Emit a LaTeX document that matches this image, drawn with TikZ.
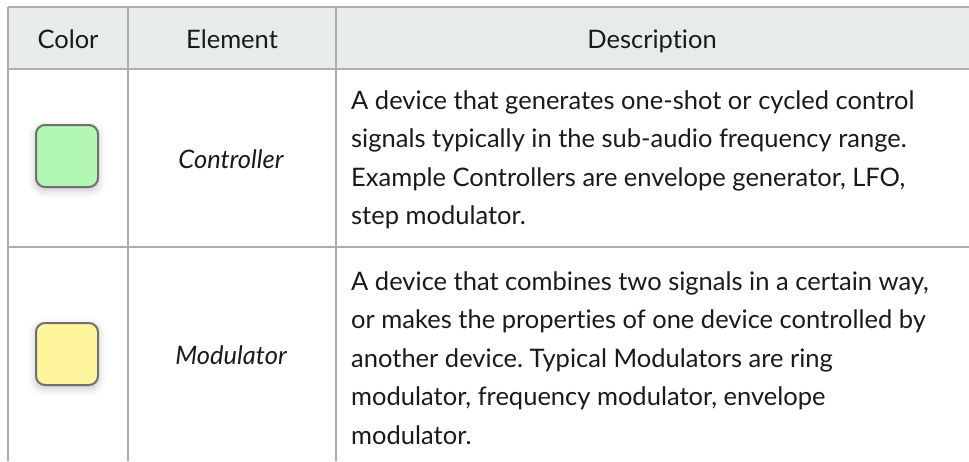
\documentclass[tikz,border=0pt]{standalone}
\usepackage{fontspec}
\setmainfont{Lato}[Ligatures=NoCommon]
\usetikzlibrary{shadows.blur}
\definecolor{gridgray}{HTML}{ADADAD}
\definecolor{headfill}{HTML}{E8EBEC}
\definecolor{ctrlgreen}{HTML}{B3F7B5}
\definecolor{modyellow}{HTML}{FFF59C}
\definecolor{boxedge}{HTML}{707070}
\definecolor{txt}{HTML}{1A1A1A}
\tikzset{
  grid/.style={draw=gridgray, line width=2pt},
  cell/.style={inner sep=0pt, text=txt, anchor=base, font=\fontsize{25.5}{38.5}\selectfont},
  elem/.style={cell, font=\fontsize{25.5}{38.5}\selectfont\itshape},
  desc/.style={cell, anchor=west, align=left, font=\fontsize{25.5}{38.5}\selectfont\frenchspacing},
  swatch/.style={draw=boxedge, line width=2pt, rounded corners=9pt, minimum width=62pt, minimum height=62pt, inner sep=0pt,
    blur shadow={shadow xshift=0pt, shadow yshift=-3pt, shadow blur radius=8pt, shadow opacity=25}}
}
\begin{document}
\begin{tikzpicture}[x=1pt,y=-1pt]
\useasboundingbox (0,0) rectangle (969,461);
\fill[headfill] (8,7) rectangle (969,69);
\draw[grid] (8,7) -- (969,7);
\draw[grid] (8,69) -- (969,69);
\draw[grid] (8,247) -- (969,247);
\draw[grid] (8,7) -- (8,461);
\draw[grid] (128,7) -- (128,461);
\draw[grid] (336,7) -- (336,461);
\node[cell] (hcolor) at (68,48) {Color};
\node[cell] (helem) at (232,48) {Element};
\node[cell] (hdesc) at (652,48) {Description};
\node[swatch, fill=ctrlgreen] (sw1) at (67,156) {};
\node[elem] (e1) at (231,168) {Controller};
\node[desc] (d1) at (351,160) {A device that generates one-shot or cycled control\\signals typically in the sub-audio frequency range.\\Example Controllers are envelope generator, LFO,\\step modulator.};
\node[swatch, fill=modyellow] (sw2) at (67,354) {};
\node[elem] (e2) at (231,364) {Modulator};
\node[desc] (d2) at (351,358) {A device that combines two signals in a certain way,\\or makes the properties of one device controlled by\\another device. Typical Modulators are ring\\modulator, frequency modulator, envelope\\modulator.};
\end{tikzpicture}
\end{document}
